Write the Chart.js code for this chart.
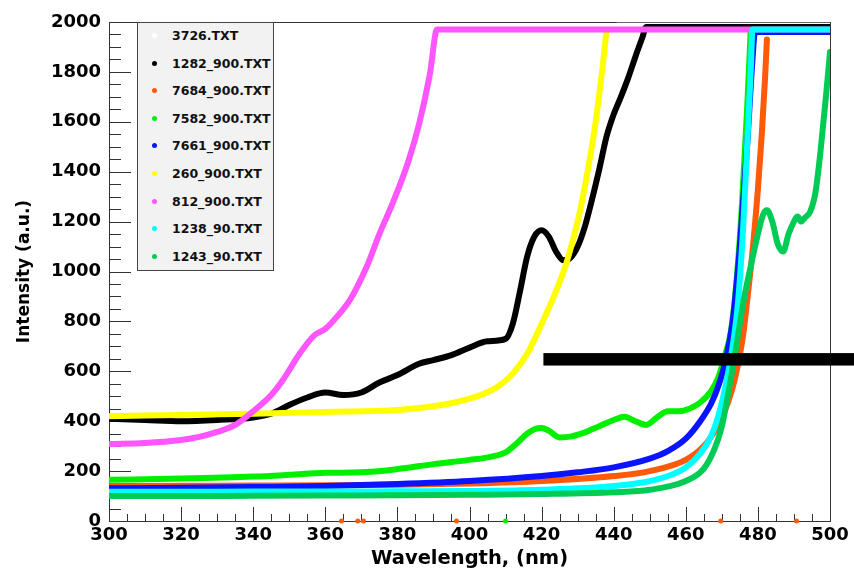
<!DOCTYPE html>
<html>
<head>
<meta charset="utf-8">
<title>Intensity vs Wavelength</title>
<script src="https://cdn.jsdelivr.net/npm/chart.js@4.4.1/dist/chart.umd.min.js"></script>
<style>
  body { margin: 0; background: #fff; }
  #wrap { position: relative; width: 854px; height: 571px; }
  #legend {
    position: absolute; left: 137px; top: 22px; width: 137px; height: 249px;
    background: #f2f2f2; border: 1px solid #444; box-sizing: border-box;
    font-family: "DejaVu Sans", sans-serif; font-weight: bold; font-size: 12.5px; color: #111;
  }
  #legend .row { position: absolute; left: 0; height: 16px; line-height: 16px; white-space: nowrap; }
  #legend .dot { position: absolute; left: 14px; top: 5px; width: 5px; height: 5px; border-radius: 50%; }
  #legend .txt { position: absolute; left: 34px; top: 0; }
</style>
</head>
<body>
<div id="wrap">
  <canvas id="chart" width="854" height="571"></canvas>
  <div id="legend"></div>
</div>
<script>
/* ================================
   Data
================================ */
const seriesNames = ["3726.TXT", "1282_900.TXT", "7684_900.TXT", "7582_900.TXT", "7661_900.TXT",
                     "260_900.TXT", "812_900.TXT", "1238_90.TXT", "1243_90.TXT"];
const seriesColors = ["#ffffff", "#000000", "#ff5a0a", "#00f000", "#0a14ff",
                      "#ffff00", "#ff55ff", "#00ffff", "#00cc55"];

// 3726.TXT (white, only visible where it sits on the top edge)
const wl3726 = [441, 449, 500];
const in3726 = [1985, 1985, 1985];

// 1282_900.TXT (black)
const wl1282 = [300, 310, 320, 330, 340, 345, 350, 355, 360, 365, 370, 375, 380, 386, 390, 395, 400, 405, 410,
                412, 414, 416, 418, 420, 422, 424, 426, 428, 430, 432, 434, 436, 438, 440, 442, 444, 446, 448, 449, 470, 500];
const in1282 = [410, 405, 400, 405, 415, 430, 465, 495, 515, 505, 515, 555, 585, 630, 645, 665, 695, 720, 730,
                790, 920, 1060, 1140, 1165, 1140, 1080, 1045, 1055, 1100, 1180, 1290, 1410, 1540, 1630, 1700, 1775, 1860, 1940, 1980, 1980, 1980];

// 7684_900.TXT (orange)
const wl7684 = [300, 320, 340, 360, 380, 400, 420, 440, 450, 460, 465, 468, 470.5, 472.8, 474.5, 475.9, 477, 478.5, 480, 481.1, 482, 482.5];
const in7684 = [140, 141, 142, 143, 145, 150, 160, 180, 200, 245, 300, 360, 430, 525, 630, 745, 880, 1080, 1330, 1555, 1780, 1930];

// 7582_900.TXT (green)
const wl7582 = [300, 320, 340, 350, 360, 370, 380, 390, 400, 405, 410, 413, 416, 418, 420, 422, 425, 428, 432, 436, 440,
                443, 446, 449, 452, 455, 458, 461, 464, 467, 469, 471, 472.5, 474, 475.5, 477, 478];
const in7582 = [165, 170, 178, 185, 193, 195, 208, 228, 245, 255, 275, 310, 350, 368, 373, 362, 335, 338, 355, 380, 405,
                418, 400, 385, 415, 440, 440, 450, 475, 520, 575, 670, 760, 950, 1250, 1650, 1965];

// 7661_900.TXT (blue)
const wl7661 = [300, 320, 340, 360, 380, 400, 420, 430, 440, 450, 455, 460, 464, 467, 469, 471, 473, 475, 477, 478.5, 479.2, 490, 500];
const in7661 = [131, 133, 136, 140, 148, 160, 180, 195, 215, 250, 280, 330, 400, 470, 540, 640, 800, 1100, 1500, 1850, 1960, 1960, 1960];

// 260_900.TXT (yellow)
const wl260 = [300, 320, 340, 360, 380, 390, 395, 400, 404, 408, 412, 416, 420, 424, 427, 430, 433, 435, 437, 438];
const in260 = [420, 425, 430, 437, 445, 460, 472, 490, 510, 540, 590, 670, 790, 920, 1040, 1200, 1420, 1600, 1830, 1965];

// 812_900.TXT (magenta)
const wl812 = [300, 310, 320, 325, 330, 335, 340, 345, 348, 350, 353, 357, 360, 363, 367, 371.5, 375, 379, 383, 386, 389, 391, 420, 460, 500];
const in812 = [309, 313, 325, 337, 357, 385, 440, 505, 560, 605, 673, 745, 770, 815, 890, 1020, 1150, 1285, 1440, 1590, 1790, 1970, 1970, 1970, 1970];

// 1238_90.TXT (cyan)
const wl1238 = [300, 320, 340, 360, 380, 400, 420, 440, 450, 456, 460, 464, 467, 469, 471, 473, 474.5, 476, 477, 478, 478.5, 490, 500];
const in1238 = [117, 117, 118, 118, 119, 120, 125, 140, 160, 185, 215, 270, 340, 420, 540, 700, 880, 1200, 1500, 1800, 1970, 1970, 1970];

// 1243_90.TXT (dark green)
const wl1243 = [300, 320, 340, 360, 380, 400, 420, 440, 450, 460, 465, 468, 470, 472, 474.5, 476, 478, 480, 481.5, 482.5,
                484, 485.5, 487, 488.5, 490, 491, 492, 493, 494.5, 496, 497.5, 499, 500];
const in1243 = [100, 100, 101, 102, 103, 105, 108, 115, 125, 160, 210, 290, 380, 530, 745, 880, 1020, 1150, 1230, 1245,
                1200, 1110, 1080, 1150, 1200, 1220, 1200, 1215, 1240, 1320, 1500, 1720, 1880];

// stray points sitting on zero
const zero7684 = [364.5, 369, 370.6, 396.4, 469.7, 490.7];
const zero7582 = [410];

// the black strip across the right side
const stripFrom = 420.5;
const stripLevel = 648;
const stripHalf = 25;

const xTickStep = 20, xMinorStep = 5;
const yTickStep = 200, yMinorStep = 50;

/* ================================
   Build datasets
================================ */
const allWl = [wl3726, wl1282, wl7684, wl7582, wl7661, wl260, wl812, wl1238, wl1243];
const allIn = [in3726, in1282, in7684, in7582, in7661, in260, in812, in1238, in1243];

function pairs(xs, ys) {
  return xs.map((x, i) => ({ x: x, y: ys[i] }));
}

// later files are painted over earlier ones (lower order = drawn on top)
const datasets = seriesNames.map((name, i) => ({
  label: name,
  data: pairs(allWl[i], allIn[i]),
  order: 20 - i,
  borderColor: seriesColors[i],
  backgroundColor: seriesColors[i],
  borderWidth: 6,
  pointRadius: 0,
  cubicInterpolationMode: 'monotone',
  borderCapStyle: 'round',
  borderJoinStyle: 'round',
  fill: false
}));

datasets.push({
  label: '',
  data: zero7684.map(x => ({ x: x, y: 0 })),
  order: 0, showLine: false, pointRadius: 2.5, borderWidth: 0,
  backgroundColor: seriesColors[2], clip: false
});
datasets.push({
  label: '',
  data: zero7582.map(x => ({ x: x, y: 0 })),
  order: 0, showLine: false, pointRadius: 2.5, borderWidth: 0,
  backgroundColor: seriesColors[3], clip: false
});

/* ================================
   Frame, inner ticks, strip
================================ */
const rootFrame = {
  id: 'rootFrame',
  beforeDatasetsDraw(chart) {
    const { ctx, chartArea: a, scales: { x, y } } = chart;
    ctx.save();
    ctx.strokeStyle = '#333';
    ctx.lineWidth = 1;
    ctx.beginPath();
    for (let v = x.min; v <= x.max; v += xMinorStep) {
      const px = Math.round(x.getPixelForValue(v)) + 0.5;
      const len = (v - x.min) % xTickStep === 0 ? 14 : 7;
      ctx.moveTo(px, a.bottom);
      ctx.lineTo(px, a.bottom - len);
    }
    for (let v = y.min; v <= y.max; v += yMinorStep) {
      const py = Math.round(y.getPixelForValue(v)) + 0.5;
      const len = v % yTickStep === 0 ? 22 : 12;
      ctx.moveTo(a.left, py);
      ctx.lineTo(a.left + len, py);
    }
    ctx.stroke();
    ctx.strokeRect(Math.round(a.left) + 0.5, Math.round(a.top) + 0.5,
                   Math.round(a.right - a.left), Math.round(a.bottom - a.top));
    ctx.restore();
  },
  afterDraw(chart) {
    const { ctx, scales: { x, y } } = chart;
    const x0 = x.getPixelForValue(stripFrom);
    const y0 = y.getPixelForValue(stripLevel + stripHalf);
    const y1 = y.getPixelForValue(stripLevel - stripHalf);
    ctx.save();
    ctx.fillStyle = '#000';
    ctx.fillRect(x0, y0, chart.width - x0, y1 - y0);
    ctx.restore();
  }
};

Chart.defaults.font.family = "'DejaVu Sans', sans-serif";
Chart.defaults.color = '#000';

new Chart(document.getElementById('chart'), {
  type: 'line',
  data: { datasets: datasets },
  options: {
    responsive: false,
    animation: false,
    events: [],
    layout: { padding: { top: 22, right: 24, left: 0, bottom: 0 } },
    plugins: { legend: { display: false }, tooltip: { enabled: false } },
    scales: {
      x: {
        type: 'linear', min: 300, max: 500,
        grid: { display: false, drawTicks: false },
        border: { display: false },
        ticks: { stepSize: xTickStep, padding: 4, font: { size: 18, weight: 'bold' }, color: '#000',
                 callback: v => String(v) },
        title: { display: true, text: 'Wavelength, (nm)', font: { size: 19.5, weight: 'bold' }, padding: { top: 0, bottom: 0 } },
        afterFit(s) { s.height = 50; }
      },
      y: {
        min: 0, max: 2000,
        grid: { display: false, drawTicks: false },
        border: { display: false },
        ticks: { stepSize: yTickStep, padding: 8, font: { size: 18, weight: 'bold' }, color: '#000',
                 callback: v => String(v) },
        title: { display: true, text: 'Intensity (a.u.)', font: { size: 17, weight: 'bold' }, padding: { top: 14, bottom: 0 } },
        afterFit(s) { s.width = 109; }
      }
    }
  },
  plugins: [rootFrame]
});

/* ================================
   Legend box (top-left, inside frame)
================================ */
const legendEl = document.getElementById('legend');
seriesNames.forEach((name, i) => {
  const row = document.createElement('div');
  row.className = 'row';
  row.style.top = (5 + i * 27.6) + 'px';
  row.innerHTML = '<span class="dot" style="background:' + seriesColors[i] + '"></span><span class="txt">' + name + '</span>';
  legendEl.appendChild(row);
});
</script>
</body>
</html>
